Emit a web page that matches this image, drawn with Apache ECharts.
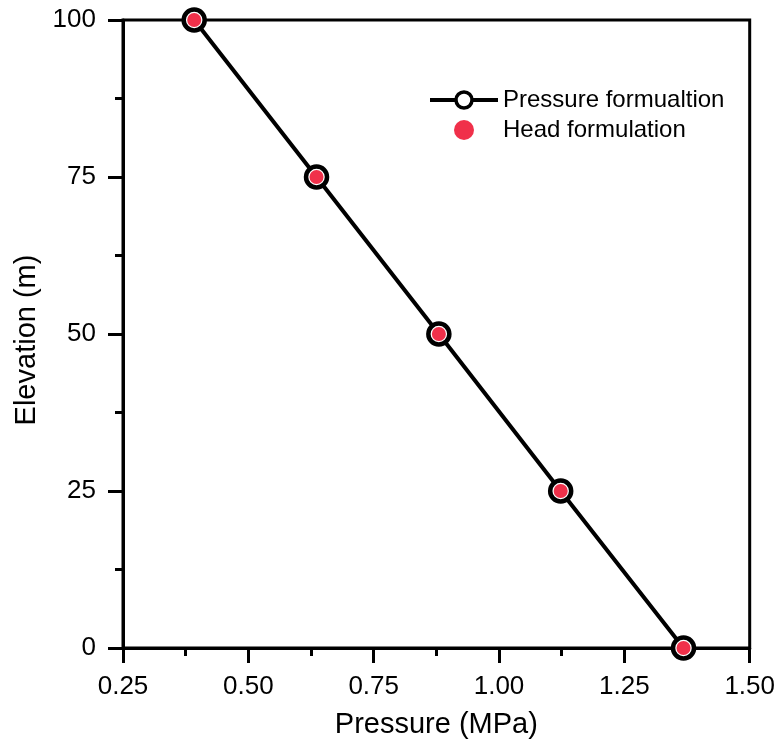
<!DOCTYPE html>
<html>
<head>
<meta charset="utf-8">
<script src="https://cdn.jsdelivr.net/npm/echarts@6/dist/echarts.min.js"></script>
<style>html,body{margin:0;padding:0;background:#fff}#c{width:778px;height:748px}</style>
</head>
<body>
<div id="c"></div>
<script>
const pressureMPa = [0.392, 0.636, 0.880, 1.123, 1.368];
const elevation = [100, 75, 50, 25, 0];
const headPressureMPa = [0.392, 0.636, 0.880, 1.123, 1.368];
const headElevation = [100, 75, 50, 25, 0];
const seriesNames = ['Pressure formualtion', 'Head formulation'];
const xTitle = 'Pressure (MPa)';
const yTitle = 'Elevation (m)';

const FONT = '"Liberation Sans", Arial, sans-serif';
const RED = '#f0304a';
const chart = echarts.init(document.getElementById('c'), null, {renderer: 'canvas'});
const axisCommon = {
  axisLine: {show: true, onZero: false, lineStyle: {color: '#000', width: 3}},
  axisTick: {show: true, inside: false, length: 15, lineStyle: {color: '#000', width: 3}},
  minorTick: {show: true, splitNumber: 2, length: 8, lineStyle: {color: '#000', width: 3}},
  splitLine: {show: false},
  minorSplitLine: {show: false},
  nameTextStyle: {fontFamily: FONT, fontSize: 29, color: '#000'},
  nameLocation: 'middle'
};
chart.setOption({
  animation: false,
  backgroundColor: '#fff',
  grid: {left: 123, right: 27, top: 20, bottom: 100, show: true, borderColor: '#000', borderWidth: 3, backgroundColor: 'transparent'},
  xAxis: Object.assign({}, axisCommon, {
    type: 'value', min: 0.25, max: 1.5, interval: 0.25,
    name: xTitle, nameGap: 62,
    axisLabel: {fontFamily: FONT, fontSize: 26, color: '#000', margin: 26, formatter: v => v.toFixed(2)}
  }),
  yAxis: Object.assign({}, axisCommon, {
    type: 'value', min: 0, max: 100, interval: 25,
    name: yTitle, nameGap: 82, nameTextStyle: {fontFamily: FONT, fontSize: 29, color: '#000', padding: [0, 12, 0, 0]},
    axisLabel: {fontFamily: FONT, fontSize: 26, color: '#000', margin: 27}
  }),
  legend: {
    orient: 'vertical', left: 423, top: 83, itemWidth: 68, itemHeight: 20, itemGap: 6,
    textStyle: {fontFamily: FONT, fontSize: 24, color: '#000'},
    data: [
      {name: seriesNames[0], lineStyle: {color: '#000', width: 4}, itemStyle: {color: '#fff', borderColor: '#000', borderWidth: 3.5}},
      {name: seriesNames[1], itemStyle: {color: RED, opacity: 1}}
    ]
  },
  series: [
    {
      name: seriesNames[0], type: 'line',
      data: pressureMPa.map((x, i) => [x, elevation[i]]),
      symbol: 'circle', symbolSize: 21,
      lineStyle: {color: '#000', width: 4},
      itemStyle: {color: '#fff', borderColor: '#000', borderWidth: 4.5},
      z: 2
    },
    {
      name: seriesNames[1], type: 'scatter',
      data: headPressureMPa.map((x, i) => [x, headElevation[i]]),
      symbol: 'circle', symbolSize: 14,
      itemStyle: {color: RED, opacity: 1},
      z: 3
    }
  ]
});
</script>
</body>
</html>
